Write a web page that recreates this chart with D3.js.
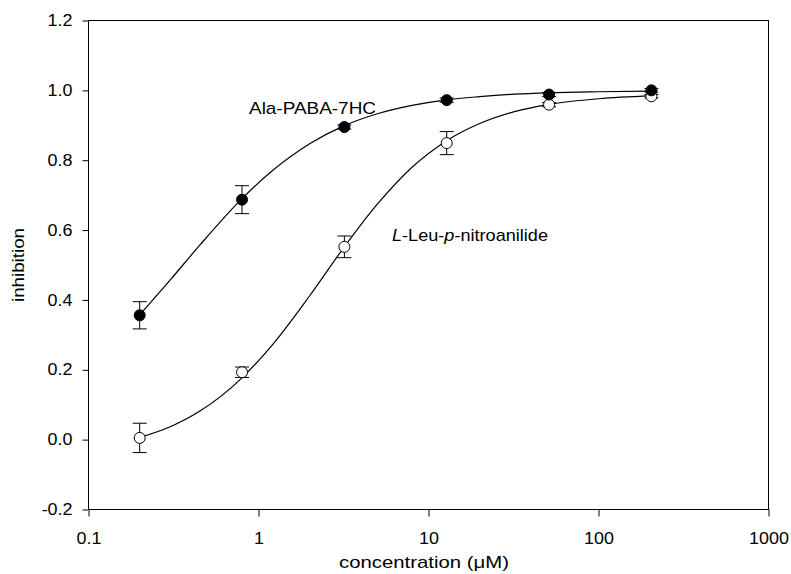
<!DOCTYPE html>
<html><head><meta charset="utf-8">
<script src="https://cdn.jsdelivr.net/npm/d3@7"></script>
<style>
body{margin:0;background:#fff;}
text{font-family:Arial,"Liberation Sans",sans-serif;fill:#000;}
</style></head>
<body><svg id="c" width="791" height="574"></svg>
<script>
// concentrations (µM)
const conc = [0.2, 0.8, 3.2, 12.8, 51.2, 204.8];
// Ala-PABA-7HC (filled)
const alaMean = [0.356, 0.687, 0.895, 0.972, 0.988, 1.000];
const alaErr  = [0.039, 0.040, 0.006, 0.006, 0.006, 0.005];
// L-Leu-p-nitroanilide (open)
const leuMean = [0.005, 0.193, 0.552, 0.849, 0.959, 0.983];
const leuErr  = [0.042, 0.015, 0.031, 0.033, 0.006, 0.005];
// fitted curves
const curveX   = [0.2, 0.3, 0.45, 0.8, 1.2, 2, 3.2, 5, 8, 12.8, 20, 32, 51.2, 100, 204.8];
const alaCurve = [0.357, 0.455, 0.556, 0.690, 0.769, 0.847, 0.899, 0.933, 0.957, 0.973, 0.982, 0.989, 0.993, 0.996, 0.998];
const leuCurve = [0.006, 0.036, 0.081, 0.177, 0.270, 0.412, 0.552, 0.674, 0.780, 0.856, 0.905, 0.939, 0.960, 0.976, 0.984];
const xTicks = [0.1, 1, 10, 100, 1000];
const yTicks = [-0.2, 0.0, 0.2, 0.4, 0.6, 0.8, 1.0, 1.2];

const svg = d3.select("#c");
const L = 88.5, R = 768.5, T = 20.5, B = 509.5;
const x = d3.scaleLog().domain([0.1, 1000]).range([L, R]);
const y = d3.scaleLinear().domain([-0.2, 1.2]).range([B, T]);

function stretch(sel, k) {
  sel.each(function () {
    const w = this.getComputedTextLength();
    d3.select(this).attr("textLength", w * k).attr("lengthAdjust", "spacingAndGlyphs");
  });
}

// frame
svg.append("rect").attr("x", L).attr("y", T).attr("width", R - L).attr("height", B - T)
  .attr("fill", "none").attr("stroke", "#000").attr("stroke-width", 1);

// axes
const yAxis = d3.axisLeft(y).tickValues(yTicks).tickFormat(d => d3.format(".1f")(d).replace("\u2212", "-")).tickSize(6).tickPadding(10);
const gy = svg.append("g").attr("transform", `translate(${L},0)`).call(yAxis);
const xAxis = d3.axisBottom(x).tickValues(xTicks).tickFormat(d => String(d)).tickSize(7).tickPadding(16);
const gx = svg.append("g").attr("transform", `translate(0,${B})`).call(xAxis);
[gx, gy].forEach(g => {
  g.select(".domain").remove();
  g.selectAll("line").attr("stroke", "#000");
  g.selectAll("text").style("font-family", "Arial, 'Liberation Sans', sans-serif").style("font-size", "16px").attr("fill", "#000");
  stretch(g.selectAll("text"), 1.12);
});

// axis titles
svg.append("text").attr("x", 424).attr("y", 568).attr("text-anchor", "middle").style("font-size", "17px")
  .attr("textLength", 170).attr("lengthAdjust", "spacingAndGlyphs")
  .text("concentration (\u03BCM)");
svg.append("text").attr("transform", "translate(24,265) rotate(-90)").attr("text-anchor", "middle").style("font-size", "17px")
  .attr("textLength", 74).attr("lengthAdjust", "spacingAndGlyphs")
  .text("inhibition");

// curves
const line = d3.line().x(d => x(d[0])).y(d => y(d[1])).curve(d3.curveMonotoneX);
svg.append("path").attr("d", line(curveX.map((c, i) => [c, alaCurve[i]])))
  .attr("fill", "none").attr("stroke", "#000").attr("stroke-width", 1.2);
svg.append("path").attr("d", line(curveX.map((c, i) => [c, leuCurve[i]])))
  .attr("fill", "none").attr("stroke", "#000").attr("stroke-width", 1.2);

// error bars + markers
function series(mean, err, fill) {
  const g = svg.append("g");
  conc.forEach((c, i) => {
    const cx = x(c), y1 = y(mean[i] + err[i]), y2 = y(mean[i] - err[i]);
    g.append("line").attr("x1", cx).attr("x2", cx).attr("y1", y1).attr("y2", y2).attr("stroke", "#000");
    [y1, y2].forEach(yy => g.append("line").attr("x1", cx - 7).attr("x2", cx + 7).attr("y1", yy).attr("y2", yy).attr("stroke", "#000"));
  });
  g.selectAll("circle").data(conc).join("circle")
    .attr("cx", d => x(d)).attr("cy", (d, i) => y(mean[i])).attr("r", 5.5)
    .attr("fill", fill).attr("stroke", "#000").attr("stroke-width", 1);
}
series(leuMean, leuErr, "#fff");
series(alaMean, alaErr, "#000");

// labels
svg.append("text").attr("x", 249).attr("y", 114).style("font-size", "17px")
  .attr("textLength", 127).attr("lengthAdjust", "spacingAndGlyphs").text("Ala-PABA-7HC");
const t2 = svg.append("text").attr("x", 392).attr("y", 241).style("font-size", "17px")
  .attr("textLength", 156).attr("lengthAdjust", "spacingAndGlyphs");
t2.append("tspan").style("font-style", "italic").text("L");
t2.append("tspan").text("-Leu-");
t2.append("tspan").style("font-style", "italic").text("p");
t2.append("tspan").text("-nitroanilide");
</script></body></html>
